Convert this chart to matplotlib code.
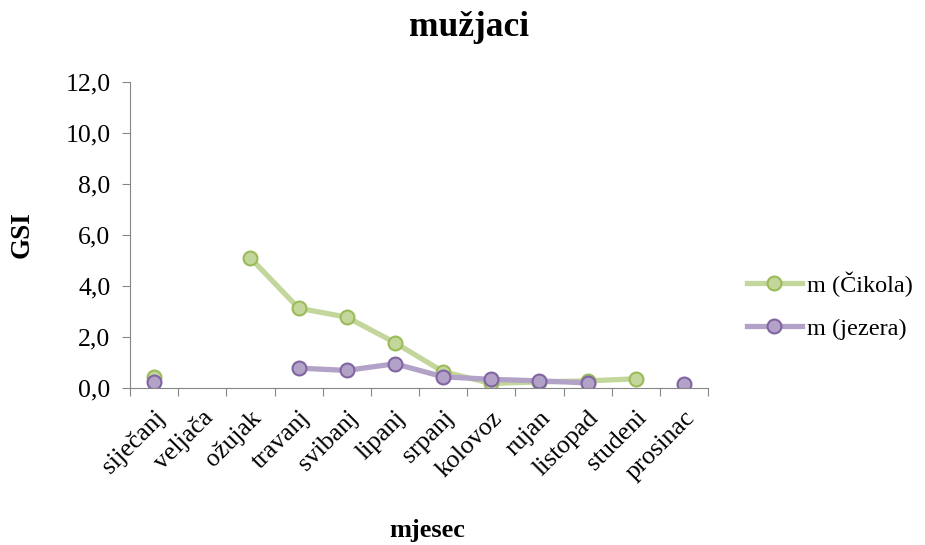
import numpy as np
import matplotlib.pyplot as plt

# podaci (GSI po mjesecima)
mjeseci = ['siječanj', 'veljača', 'ožujak', 'travanj', 'svibanj', 'lipanj',
           'srpanj', 'kolovoz', 'rujan', 'listopad', 'studeni', 'prosinac']
cikola = [0.43, np.nan, 5.08, 3.11, 2.76, 1.76, 0.62, 0.16, 0.22, 0.26, 0.34, np.nan]
jezera = [0.21, np.nan, np.nan, 0.76, 0.67, 0.93, 0.42, 0.32, 0.26, 0.18, np.nan, 0.14]
y_ticks = [0, 2, 4, 6, 8, 10, 12]

plt.rcParams['font.family'] = ['Liberation Serif', 'DejaVu Serif']

fig = plt.figure(figsize=(9.25, 5.45), dpi=100)
ax = fig.add_axes([130 / 925, 1 - 387.5 / 545, 578 / 925, 306 / 545])

x = np.arange(len(mjeseci))
ax.plot(x, cikola, '-o', color='#c3d69b', lw=3.8, ms=10,
        mfc='#c3d69b', mec='#9bbb59', mew=1.5, label='m (Čikola)')
ax.plot(x, jezera, '-o', color='#b3a2c7', lw=3.8, ms=10,
        mfc='#b3a2c7', mec='#8064a2', mew=1.5, label='m (jezera)')

ax.set_xlim(-0.5, len(mjeseci) - 0.5)
ax.set_ylim(0, 12)
ax.set_yticks(y_ticks)
ax.set_yticklabels([f'{v:.1f}'.replace('.', ',') for v in y_ticks], fontsize=18.5)
ax.set_xticks(np.arange(len(mjeseci) + 1) - 0.5, minor=False)
ax.set_xticklabels([])
ax.set_xticks(x, minor=True)
ax.set_xticklabels(mjeseci, minor=True, rotation=45, ha='right', va='top',
                   rotation_mode='anchor', fontsize=18.5)
ax.tick_params(axis='x', which='minor', length=0, pad=14)
ax.tick_params(axis='x', which='major', length=6, color='#868686')
ax.tick_params(axis='y', length=6, color='#868686', pad=8)

for s in ['top', 'right']:
    ax.spines[s].set_visible(False)
for s in ['left', 'bottom']:
    ax.spines[s].set_color('#868686')

fig.text(469 / 925, 1 - 28 / 545, 'mužjaci', ha='center', va='center',
         fontsize=25.5, fontweight='bold')
fig.text(22 / 925, 1 - 235 / 545, 'GSI', ha='center', va='center',
         rotation=90, fontsize=19.5, fontweight='bold')
fig.text(427 / 925, 1 - 530 / 545, 'mjesec', ha='center', va='center',
         fontsize=19, fontweight='bold')

fig.legend(loc='center left', bbox_to_anchor=(747 / 925, 1 - 305.5 / 545),
           frameon=False, fontsize=17.5, handlelength=2.25, labelspacing=0.85,
           handletextpad=0.2, borderpad=0, borderaxespad=0)

fig.savefig('out.png', dpi=100)
